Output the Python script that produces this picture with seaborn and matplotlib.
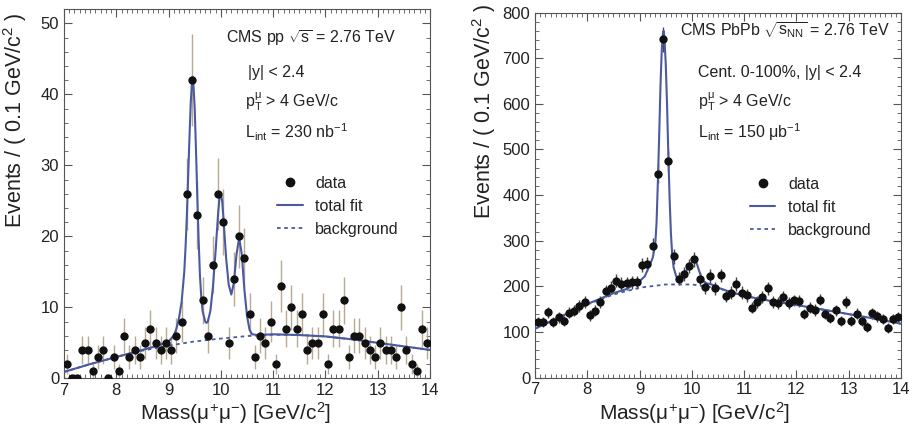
import numpy as np
import pandas as pd
import seaborn as sns
import matplotlib
matplotlib.use("Agg")
import matplotlib.pyplot as plt
from matplotlib.lines import Line2D
from matplotlib.ticker import MultipleLocator

# ---------------- data ----------------
mass_bins = np.round(7.05 + 0.1 * np.arange(70), 2)

pp_counts = [2, 0, 0, 4, 4, 1, 3, 4, 0, 3,
             1, 6, 3, 4, 3, 5, 7, 5, 4, 5,
             4, 6, 8, 26, 42, 23, 11, 6, 16, 26,
             22, 5, 14, 20, 17, 9, 3, 6, 5, 8,
             2, 13, 7, 10, 7, 9, 4, 5, 5, 9,
             2, 7, 7, 11, 3, 6, 6, 5, 4, 3,
             5, 4, 4, 3, 10, 4, 2, 1, 7, 5]

pbpb_counts = [122, 122, 143, 122, 132, 124, 142, 146, 157, 166,
               136, 146, 166, 190, 197, 212, 205, 207, 209, 209,
               246, 249, 289, 447, 742, 475, 266, 217, 227, 244,
               259, 217, 198, 223, 196, 224, 179, 186, 205, 186,
               180, 153, 165, 177, 196, 166, 163, 177, 164, 169,
               167, 139, 153, 148, 171, 139, 131, 147, 124, 165,
               124, 140, 124, 111, 141, 134, 128, 109, 128, 133]

pp_fit_x = [7.0, 7.5, 8.0, 8.5, 8.8, 9.0, 9.1, 9.15, 9.2, 9.25, 9.3, 9.325, 9.35,
            9.375, 9.4, 9.425, 9.45, 9.46, 9.475, 9.5, 9.525, 9.55, 9.575, 9.6,
            9.625, 9.65, 9.7, 9.725, 9.75, 9.8, 9.85, 9.9, 9.95, 9.975, 10.0,
            10.025, 10.05, 10.1, 10.15, 10.2, 10.25, 10.3, 10.35, 10.4, 10.45,
            10.5, 10.55, 10.6, 10.7, 11.0, 11.5, 12.0, 12.5, 13.0, 13.5, 14.0]
pp_fit_y = [0.9, 2.0, 3.0, 4.0, 4.6, 5.2, 6.0, 7.0, 8.5, 10.8, 15.0, 18.5, 23.0,
            28.5, 34.0, 39.0, 42.0, 42.5, 41.5, 38.0, 32.0, 25.5, 19.5, 14.5,
            11.5, 9.5, 8.0, 7.8, 8.0, 9.5, 13.0, 18.0, 23.5, 25.5, 26.0,
            25.0, 22.5, 17.0, 13.2, 11.8, 13.5, 17.5, 19.8, 17.5, 12.5,
            8.8, 6.8, 6.2, 6.1, 6.2, 6.1, 5.9, 5.5, 5.0, 4.5, 4.0]
pp_bkg_x = [7.0, 7.5, 8.0, 8.5, 9.0, 9.5, 10.0, 10.5, 11.0, 11.5, 12.0, 12.5, 13.0, 13.5, 14.0]
pp_bkg_y = [0.9, 2.0, 3.0, 3.9, 4.6, 5.2, 5.6, 5.95, 6.15, 6.1, 5.9, 5.5, 5.0, 4.5, 4.0]

pbpb_fit_x = [7.0, 7.5, 8.0, 8.5, 8.75, 9.0, 9.1, 9.2, 9.25, 9.3, 9.325, 9.35, 9.375,
              9.4, 9.425, 9.45, 9.46, 9.475, 9.5, 9.525, 9.55, 9.575, 9.6, 9.625,
              9.65, 9.7, 9.75, 9.8, 9.85, 9.9, 9.95, 10.0, 10.03, 10.06, 10.1,
              10.15, 10.2, 10.25, 10.3, 10.35, 10.4, 10.5, 10.7, 11.0, 11.5, 12.0,
              12.5, 13.0, 13.5, 14.0]
pbpb_fit_y = [107, 134, 161, 185, 194, 211, 222, 248, 262, 292, 340, 430, 530,
              640, 720, 758, 760, 745, 690, 600, 490, 390, 315, 268,
              242, 222, 219, 222, 228, 235, 244, 253, 257, 258, 248,
              230, 215, 208, 206, 205, 203, 197, 189, 179, 168, 159,
              149, 139, 129, 118]
pbpb_bkg_x = [7.0, 7.5, 8.0, 8.5, 9.0, 9.5, 10.0, 10.5, 11.0, 11.5, 12.0, 12.5, 13.0, 13.5, 14.0]
pbpb_bkg_y = [107, 133, 160, 182, 197, 204, 204, 196, 179, 168, 159, 149, 139, 129, 118]

# ---------------- style ----------------
sns.set_theme(style="ticks")
plt.rcParams['font.family'] = ['Liberation Sans', 'DejaVu Sans']
plt.rcParams['mathtext.fontset'] = 'custom'
plt.rcParams['mathtext.rm'] = 'Liberation Sans'
plt.rcParams['mathtext.it'] = 'Liberation Sans'
plt.rcParams['mathtext.default'] = 'regular'

FIT = '#4b5a9e'
TXT = '#222222'

fig = plt.figure(figsize=(9.09, 4.26), dpi=100)
axL = fig.add_axes([64 / 909, 1 - 378.3 / 426, 366 / 909, 369 / 426])
axR = fig.add_axes([535 / 909, 1 - 377.5 / 426, 366 / 909, 364.8 / 426])


def draw(ax, counts, fit_x, fit_y, bkg_x, bkg_y, ecolor):
    df = pd.DataFrame({'mass': mass_bins, 'n': counts})
    err = np.sqrt(df['n'])
    ax.errorbar(df['mass'], df['n'], yerr=err, fmt='none', ecolor=ecolor,
                elinewidth=1.0, capsize=0, zorder=2)
    sns.lineplot(x=bkg_x, y=bkg_y, ax=ax, color=FIT, lw=1.3,
                 linestyle=(0, (2, 2)), estimator=None, zorder=3)
    sns.lineplot(x=fit_x, y=fit_y, ax=ax, color=FIT, lw=1.5,
                 estimator=None, zorder=4)
    sns.scatterplot(data=df, x='mass', y='n', ax=ax, color='#111111', s=36,
                    edgecolor='#111111', linewidth=0, zorder=5)
    ax.set_xlim(7, 14)
    ax.xaxis.set_major_locator(MultipleLocator(1))
    ax.xaxis.set_minor_locator(MultipleLocator(0.1))
    ax.tick_params(which='both', direction='in', top=True, right=True,
                   colors='#555555', labelcolor=TXT, labelsize=12)
    ax.tick_params(which='major', length=6, width=0.8)
    ax.tick_params(which='minor', length=3, width=0.6)
    for s in ax.spines.values():
        s.set_color('#555555')
        s.set_linewidth(0.8)
    ax.set_xlabel('Mass(μ$^{+}$μ$^{-}$) [GeV/c$^{2}$]', fontsize=15, color=TXT)
    ax.set_ylabel('Events / ( 0.1 GeV/c$^{2}$ )', fontsize=15.5, color=TXT, loc='top')


draw(axL, pp_counts, pp_fit_x, pp_fit_y, pp_bkg_x, pp_bkg_y, '#b8aa92')
axL.set_ylim(0, 52)
axL.yaxis.set_major_locator(MultipleLocator(10))
axL.yaxis.set_minor_locator(MultipleLocator(2))

draw(axR, pbpb_counts, pbpb_fit_x, pbpb_fit_y, pbpb_bkg_x, pbpb_bkg_y, '#444444')
axR.set_ylim(0, 800)
axR.yaxis.set_major_locator(MultipleLocator(100))
axR.yaxis.set_minor_locator(MultipleLocator(20))

axL.yaxis.set_label_coords(-0.095, 0.99)
axR.yaxis.set_label_coords(-0.100, 1.025)
axL.xaxis.set_label_coords(0.47, -0.060)
axR.xaxis.set_label_coords(0.437, -0.062)

fs = 11.5
axL.text(0.443, 0.922, 'CMS pp $\\sqrt{s}$ = 2.76 TeV', transform=axL.transAxes,
         fontsize=fs, color=TXT, va='center')
axL.text(0.503, 0.830, '|y| < 2.4', transform=axL.transAxes, fontsize=fs, color=TXT, va='center')
axL.text(0.495, 0.749, 'p$_{T}^{\\mu}$ > 4 GeV/c', transform=axL.transAxes, fontsize=fs, color=TXT, va='center')
axL.text(0.495, 0.667, 'L$_{int}$ = 230 nb$^{-1}$', transform=axL.transAxes, fontsize=fs, color=TXT, va='center')

axR.text(0.396, 0.953, 'CMS PbPb $\\sqrt{s_{NN}}$ = 2.76 TeV', transform=axR.transAxes,
         fontsize=fs, color=TXT, va='center')
axR.text(0.445, 0.837, 'Cent. 0-100%, |y| < 2.4', transform=axR.transAxes, fontsize=fs, color=TXT, va='center')
axR.text(0.445, 0.755, 'p$_{T}^{\\mu}$ > 4 GeV/c', transform=axR.transAxes, fontsize=fs, color=TXT, va='center')
axR.text(0.445, 0.673, 'L$_{int}$ = 150 μb$^{-1}$', transform=axR.transAxes, fontsize=fs, color=TXT, va='center')

handles = [Line2D([], [], marker='o', color='#111111', ls='none', markersize=6),
           Line2D([], [], color=FIT, lw=1.5),
           Line2D([], [], color=FIT, lw=1.3, ls=(0, (2, 2)))]
labels = ['data', 'total fit', 'background']
for ax, x, y in ((axL, 0.582, 0.548), (axR, 0.587, 0.550)):
    ax.legend(handles, labels, loc='upper left', bbox_to_anchor=(x, y),
              frameon=False, fontsize=fs, handlelength=1.6, handletextpad=0.8,
              labelspacing=0.5, borderaxespad=0, borderpad=0, labelcolor=TXT)

fig.savefig('out.png', dpi=100)
